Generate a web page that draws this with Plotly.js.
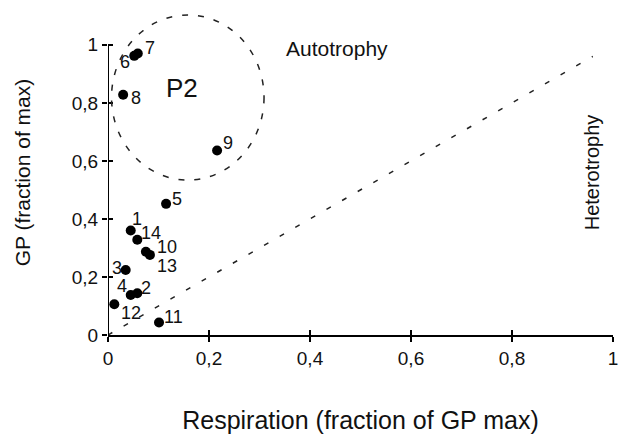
<!DOCTYPE html>
<html>
<head>
<meta charset="utf-8">
<script src="https://cdn.plot.ly/plotly-3.0.1.min.js"></script>
<style>
  html, body { margin: 0; padding: 0; background: #fff; }
  #chart { width: 619px; height: 434px; }
</style>
</head>
<body>
<div id="chart"></div>
<script>
// Sample stations: respiration vs gross production, both as fractions
const stations = ['1', '2', '3', '4', '5', '6', '7', '8', '9', '10', '11', '12', '13', '14'];
const respiration = [0.045, 0.058, 0.035, 0.045, 0.115, 0.052, 0.059, 0.030, 0.216, 0.075, 0.101, 0.0125, 0.083, 0.058];
const grossProduction = [0.360, 0.144, 0.224, 0.138, 0.452, 0.962, 0.970, 0.828, 0.636, 0.287, 0.043, 0.106, 0.276, 0.328];

// P = R balance line
const balanceR = [0, 0.96];
const balanceGP = [0, 0.96];

// Axis ticks (comma decimal)
const tickValues = [0, 0.2, 0.4, 0.6, 0.8, 1];
const tickLabels = ['0', '0,2', '0,4', '0,6', '0,8', '1'];

// Label nudges in pixels (right, down) so numbers sit beside their dots
const labelNudge = {
  '1': [6, -12], '2': [9, -5], '3': [-9, -2], '4': [-9, -9], '5': [11, -5],
  '6': [-9, 6], '7': [12, -6], '8': [13, 3], '9': [11, -7], '10': [21, -5],
  '11': [14, -6], '12': [17, 9], '13': [17, 11], '14': [14, -7]
};

const FONT = 'Liberation Sans, Arial, sans-serif';
const X_RANGE = [0, 1];
const Y_RANGE = [0, 1.12];

const points = {
  type: 'scatter',
  mode: 'markers',
  x: respiration,
  y: grossProduction,
  marker: { color: '#000', size: 10 },
  cliponaxis: false,
  hoverinfo: 'skip',
  showlegend: false
};

// the balance line lives on the overlay axes, which carry the inner tick halves
const balance = {
  type: 'scatter',
  mode: 'lines',
  x: balanceR,
  y: balanceGP,
  xaxis: 'x2',
  yaxis: 'y2',
  line: { color: '#222', width: 1.5, dash: '5px,13px' },
  hoverinfo: 'skip',
  showlegend: false
};

const annotations = stations.map((id, i) => ({
  x: respiration[i],
  y: grossProduction[i],
  xref: 'x', yref: 'y',
  text: id,
  showarrow: false,
  xshift: labelNudge[id][0],
  yshift: -labelNudge[id][1],
  font: { family: FONT, size: 18, color: '#111' }
}));

annotations.push(
  { x: 0.147, y: 0.852, xref: 'x', yref: 'y', text: 'P2', showarrow: false,
    font: { family: FONT, size: 26, color: '#111' } },
  { x: 0.453, y: 0.986, xref: 'x', yref: 'y', text: 'Autotrophy', showarrow: false,
    font: { family: FONT, size: 21, color: '#111' } },
  { x: 0.958, y: 0.56, xref: 'x', yref: 'y', text: 'Heterotrophy', showarrow: false,
    textangle: -90, font: { family: FONT, size: 20, color: '#111' } }
);

const tickStyle = {
  tickmode: 'array',
  tickvals: tickValues,
  ticktext: tickLabels,
  ticklen: 5,
  tickwidth: 2,
  tickcolor: '#000',
  showgrid: false,
  zeroline: false,
  tickfont: { family: FONT, size: 19, color: '#111' }
};

const layout = {
  width: 619,
  height: 434,
  margin: { l: 108, r: 6, t: 10, b: 99 },
  paper_bgcolor: '#fff',
  plot_bgcolor: '#fff',
  font: { family: FONT, color: '#111' },
  xaxis: Object.assign({}, tickStyle, {
    range: X_RANGE,
    ticks: 'outside',
    showline: true,
    linecolor: '#000',
    linewidth: 2,
    title: { text: 'Respiration (fraction of GP max)', standoff: 46,
             font: { family: FONT, size: 25, color: '#111' } }
  }),
  yaxis: Object.assign({}, tickStyle, {
    range: Y_RANGE,
    ticks: 'outside',
    showline: false,
    title: { text: 'GP (fraction of max)', standoff: 35,
             font: { family: FONT, size: 21, color: '#111' } }
  }),
  xaxis2: Object.assign({}, tickStyle, {
    range: X_RANGE, overlaying: 'x', anchor: 'y2',
    ticks: 'inside', showticklabels: false, showline: false
  }),
  yaxis2: Object.assign({}, tickStyle, {
    range: Y_RANGE, overlaying: 'y', anchor: 'x2',
    ticks: 'inside', showticklabels: false, showline: false
  }),
  shapes: [
    { type: 'line', xref: 'x', yref: 'y', x0: 0, x1: 0, y0: 0, y1: 1, layer: 'above',
      line: { color: '#000', width: 2 } },
    { type: 'circle', xref: 'x', yref: 'y', x0: 0.007, x1: 0.309, y0: 0.534, y1: 1.103,
      line: { color: '#222', width: 1.5, dash: '6px,10px' } }
  ],
  annotations: annotations
};

Plotly.newPlot('chart', [balance, points], layout, { displayModeBar: false, staticPlot: true });
</script>
</body>
</html>
